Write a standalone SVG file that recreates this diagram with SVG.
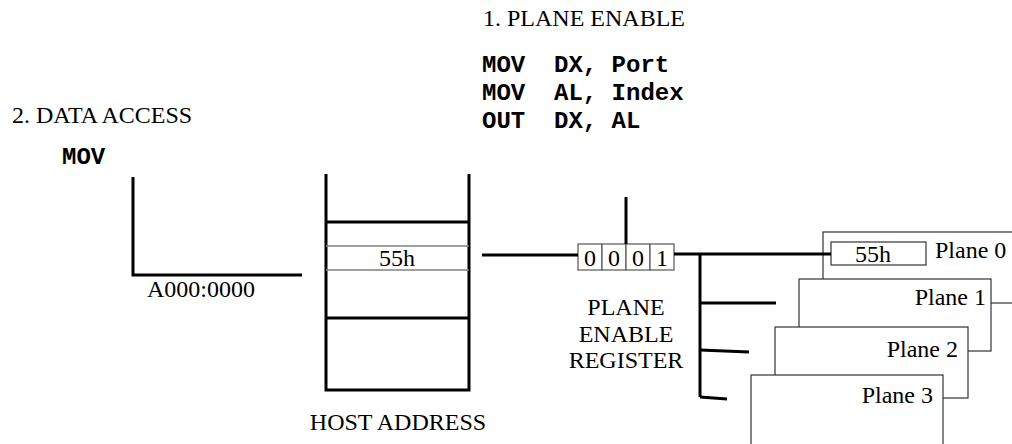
<svg xmlns="http://www.w3.org/2000/svg" width="1012" height="444" viewBox="0 0 1012 444">
  <style>
    .lbl { font-family: "Liberation Serif", "Times New Roman", serif; font-size: 24px; fill: #000; }
    .code { font-family: "Liberation Mono", "Courier New", monospace; font-size: 24px; font-weight: bold; fill: #000; }
    .mid { text-anchor: middle; }
    .end { text-anchor: end; }
    .thick { stroke: #000; stroke-width: 3; fill: none; }
    .thin { stroke: #808080; stroke-width: 1.5; fill: none; }
    .plane { stroke: #333; stroke-width: 1.2; fill: #fff; }
    .cell { stroke: #555; stroke-width: 1.2; fill: #fff; }
  </style>

  <!-- step 1: plane enable sequence -->
  <g id="step1">
    <text class="lbl" x="483" y="26">1. PLANE ENABLE</text>
    <text class="code" x="482" y="72" xml:space="preserve">MOV  DX, Port</text>
    <text class="code" x="482" y="100" xml:space="preserve">MOV  AL, Index</text>
    <text class="code" x="482" y="128" xml:space="preserve">OUT  DX, AL</text>
  </g>

  <!-- step 2: data access -->
  <g id="step2">
    <text class="lbl" x="12" y="123">2. DATA ACCESS</text>
    <text class="code" x="62" y="164">MOV</text>
  </g>

  <!-- segment address bracket -->
  <g id="segment">
    <path class="thick" d="M133,177 V275 H302"/>
    <text class="lbl" x="147" y="297">A000:0000</text>
  </g>

  <!-- host memory column -->
  <g id="host">
    <path class="thick" d="M326,174 V390 H469 V174"/>
    <line class="thick" x1="326" y1="222" x2="469" y2="222"/>
    <line class="thick" x1="326" y1="318" x2="469" y2="318"/>
    <line class="thin" x1="326" y1="246" x2="469" y2="246"/>
    <line class="thin" x1="326" y1="270" x2="469" y2="270"/>
    <text class="lbl mid" x="397" y="266">55h</text>
    <text class="lbl mid" x="398" y="430">HOST ADDRESS</text>
  </g>

  <!-- plane enable register -->
  <g id="register">
    <rect class="cell" x="578" y="244" width="24" height="26"/>
    <rect class="cell" x="602" y="244" width="24" height="26"/>
    <rect class="cell" x="626" y="244" width="24" height="26"/>
    <rect class="cell" x="650" y="244" width="24" height="26"/>
    <text class="lbl mid" x="590" y="266">0</text>
    <text class="lbl mid" x="614" y="266">0</text>
    <text class="lbl mid" x="638" y="266">0</text>
    <text class="lbl mid" x="662" y="266">1</text>
    <text class="lbl mid" x="626" y="315">PLANE</text>
    <text class="lbl mid" x="626" y="342">ENABLE</text>
    <text class="lbl mid" x="626" y="368">REGISTER</text>
  </g>

  <!-- bit planes, back to front -->
  <g id="plane0">
    <rect class="plane" x="823" y="232" width="200" height="71"/>
    <rect class="plane" x="831" y="242" width="95" height="23"/>
    <text class="lbl" x="855" y="262">55h</text>
    <text class="lbl" x="935" y="258">Plane 0</text>
  </g>
  <g id="plane1">
    <rect class="plane" x="799" y="279" width="192" height="72"/>
    <text class="lbl end" x="986" y="305">Plane 1</text>
  </g>
  <g id="plane2">
    <rect class="plane" x="775" y="327" width="193" height="71"/>
    <text class="lbl end" x="958" y="357">Plane 2</text>
  </g>
  <g id="plane3">
    <rect class="plane" x="751" y="375" width="192" height="80"/>
    <text class="lbl end" x="933" y="403">Plane 3</text>
  </g>

  <!-- connectors -->
  <g id="connectors">
    <line class="thick" x1="626" y1="197" x2="626" y2="244"/>
    <line class="thick" x1="482" y1="255" x2="578" y2="255"/>
    <line class="thick" x1="674" y1="254" x2="831" y2="254"/>
    <line class="thick" x1="700" y1="254" x2="700" y2="397"/>
    <line class="thick" x1="700" y1="303" x2="776" y2="303"/>
    <line class="thick" x1="700" y1="350" x2="749" y2="352"/>
    <line class="thick" x1="700" y1="397" x2="727" y2="399"/>
  </g>
</svg>
